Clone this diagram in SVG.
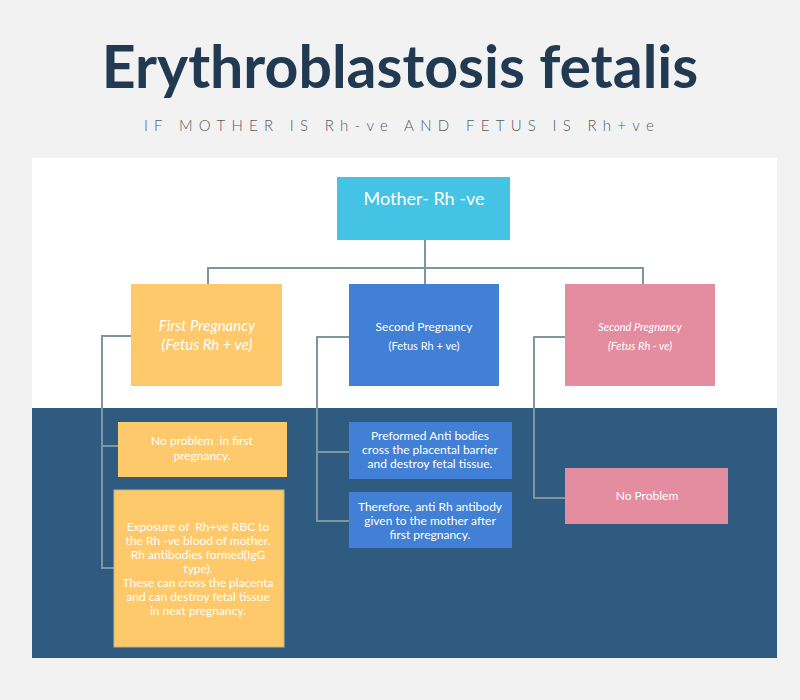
<svg xmlns="http://www.w3.org/2000/svg" width="800" height="700" viewBox="0 0 800 700">
<style>
text{font-family:Lato,"Open Sans","Liberation Sans",sans-serif;fill:#fff;text-anchor:middle}
.c{fill:none;stroke:#7d979e;stroke-width:2}
.y{fill:#fec96b}
.b{fill:#4180d4}
.p{fill:#e48da0}
.s{font-size:12px}
</style>
<rect width="800" height="700" fill="#f2f2f2"/>
<rect x="32" y="158" width="745" height="250" fill="#ffffff"/>
<rect x="32" y="408" width="745" height="250" fill="#2f5b80"/>
<text x="400" y="88" style="font-size:59px;font-weight:bold;fill:#213a52">Erythroblastosis fetalis</text>
<text x="402" y="131" style="font-size:15px;font-weight:300;fill:#555c63;letter-spacing:6.3px">IF MOTHER IS Rh-ve AND FETUS IS Rh+ve</text>
<g id="connectors">
<path class="c" d="M425 240V268M208 284V268H643V284M425 268V284"/>
<path class="c" d="M131 336H102V568H114M102 446H118"/>
<path class="c" d="M349 337H317V521H349M317 452H349"/>
<path class="c" d="M565 337H534V498H565"/>
</g>
<g id="mother"><rect x="337" y="177" width="173" height="63" fill="#45c3e4"/><text x="424" y="205" style="font-size:18px">Mother- Rh -ve</text></g>
<g id="first"><rect class="y" x="131" y="284" width="151" height="102"/><text x="207" y="331" style="font-size:15px;font-style:italic">First Pregnancy</text><text x="207" y="350" style="font-size:15px;font-style:italic">(Fetus Rh + ve)</text></g>
<g id="second"><rect class="b" x="349" y="284" width="150" height="102"/><text x="424" y="331" style="font-size:12px">Second Pregnancy</text><text x="424" y="350" style="font-size:11px">(Fetus Rh + ve)</text></g>
<g id="third"><rect class="p" x="565" y="284" width="150" height="102"/><text x="640" y="331" style="font-size:11px;font-style:italic">Second Pregnancy</text><text x="640" y="350" style="font-size:11px;font-style:italic">(Fetus Rh - ve)</text></g>
<g id="first-a"><rect class="y" x="118" y="422" width="169" height="55"/><text class="s" x="202" y="445" xml:space="preserve">No problem  in first</text><text class="s" x="202" y="460">pregnancy.</text></g>
<g id="first-b"><rect class="y" x="114" y="490" width="170" height="157" stroke="#c8b27a" stroke-width="1"/><text class="s" x="198" y="531" xml:space="preserve">Exposure of  Rh+ve RBC to</text><text class="s" x="198" y="545">the Rh -ve blood of mother.</text><text class="s" x="198" y="559">Rh antibodies formed(IgG</text><text class="s" x="198" y="573">type).</text><text class="s" x="198" y="587">These can cross the placenta</text><text class="s" x="198" y="601">and can destroy fetal tissue</text><text class="s" x="198" y="615">in next pregnancy.</text></g>
<g id="second-a"><rect class="b" x="349" y="422" width="163" height="57"/><text class="s" x="430" y="440">Preformed Anti bodies</text><text class="s" x="430" y="454">cross the placental barrier</text><text class="s" x="430" y="468">and destroy fetal tissue.</text></g>
<g id="second-b"><rect class="b" x="349" y="492" width="163" height="56"/><text class="s" x="430" y="511">Therefore, anti Rh antibody</text><text class="s" x="430" y="525">given to the mother after</text><text class="s" x="430" y="539">first pregnancy.</text></g>
<g id="third-a"><rect class="p" x="565" y="468" width="163" height="56"/><text class="s" x="647" y="500">No Problem</text></g>
</svg>
